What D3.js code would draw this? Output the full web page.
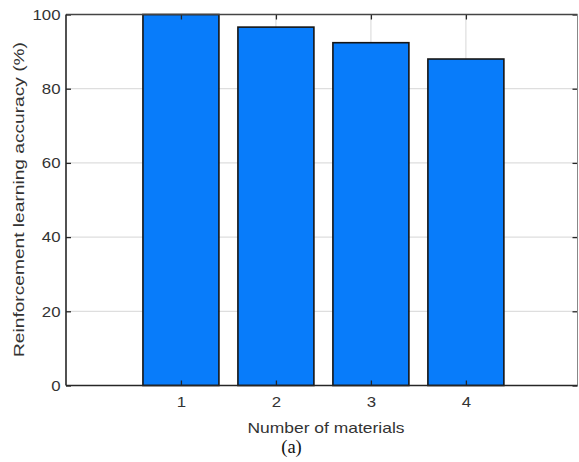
<!DOCTYPE html>
<html>
<head>
<meta charset="utf-8">
<script src="https://cdn.jsdelivr.net/npm/d3@7/dist/d3.min.js"></script>
<style>
html,body{margin:0;padding:0;background:#fff;}
svg{display:block;}
</style>
</head>
<body>
<svg id="chart" width="579" height="462"></svg>
<script>
const categories = [1, 2, 3, 4];
const accuracy = [100, 96.6, 92.4, 88.0];
const yTicks = [0, 20, 40, 60, 80, 100];

const W = 579, H = 462;
const pL = 66, pR = 577.5, pT = 14.5, pB = 385.5;
const svg = d3.select("#chart");

const x = d3.scaleLinear().domain([-0.21, 5.175]).range([pL, pR]);
const y = d3.scaleLinear().domain([0, 100]).range([pB, pT]);
const barW = 0.8;

const font = "'Liberation Sans', Arial, Helvetica, sans-serif";
const axisCol = "#262626";

function stretch(sel, f) {
  sel.each(function() {
    const w = this.getComputedTextLength();
    d3.select(this).attr("textLength", w * f).attr("lengthAdjust", "spacingAndGlyphs");
  });
}

// gridlines
const g = svg.append("g");
g.selectAll(".hg").data(yTicks.slice(1, -1)).enter().append("line")
  .attr("x1", pL).attr("x2", pR)
  .attr("y1", d => y(d)).attr("y2", d => y(d))
  .attr("stroke", "#dedede").attr("stroke-width", 1.2);
g.selectAll(".vg").data(categories).enter().append("line")
  .attr("x1", d => x(d)).attr("x2", d => x(d))
  .attr("y1", pT).attr("y2", pB)
  .attr("stroke", "#dedede").attr("stroke-width", 1.2);

// bars
svg.append("g").selectAll("rect").data(categories).enter().append("rect")
  .attr("x", (d) => x(d - barW / 2))
  .attr("width", (d) => x(d + barW / 2) - x(d - barW / 2))
  .attr("y", (d, i) => y(accuracy[i]))
  .attr("height", (d, i) => y(0) - y(accuracy[i]))
  .attr("fill", "#087cfa")
  .attr("stroke", "#151515")
  .attr("stroke-width", 1.6);

// axes
const xAxisB = d3.axisBottom(x).tickValues(categories).tickSize(-5).tickPadding(11).tickFormat(d3.format("d"));
const xAxisT = d3.axisTop(x).tickValues(categories).tickSize(-5).tickFormat("");
const yAxisL = d3.axisLeft(y).tickValues(yTicks).tickSize(-5).tickPadding(5.5).tickFormat(d3.format("d"));
const yAxisR = d3.axisRight(y).tickValues(yTicks).tickSize(-5).tickFormat("");

function style(sel) {
  sel.select(".domain").remove();
  sel.selectAll(".tick line").attr("stroke", axisCol).attr("stroke-width", 1.3);
  sel.selectAll(".tick text").attr("fill", "#333").style("font-family", font).style("font-size", "15px");
}

const gb = svg.append("g").attr("transform", `translate(0,${pB})`).call(xAxisB);
style(gb);
stretch(gb.selectAll(".tick text"), 1.12);
const gt = svg.append("g").attr("transform", `translate(0,${pT})`).call(xAxisT);
style(gt);
const gl = svg.append("g").attr("transform", `translate(${pL},0)`).call(yAxisL);
style(gl);
stretch(gl.selectAll(".tick text"), 1.12);
const gr = svg.append("g").attr("transform", `translate(${pR},0)`).call(yAxisR);
style(gr);

// box
svg.append("line").attr("x1", pL).attr("x2", pR).attr("y1", pT).attr("y2", pT)
  .attr("stroke", "#444").attr("stroke-width", 1.5);
svg.append("line").attr("x1", pR).attr("x2", pR).attr("y1", pT).attr("y2", pB)
  .attr("stroke", "#888").attr("stroke-width", 1);
svg.append("line").attr("x1", pL).attr("x2", pR).attr("y1", pB).attr("y2", pB)
  .attr("stroke", axisCol).attr("stroke-width", 1.6);
svg.append("line").attr("x1", pL).attr("x2", pL).attr("y1", pT).attr("y2", pB)
  .attr("stroke", axisCol).attr("stroke-width", 1.6);

// labels
svg.append("text").attr("x", 326).attr("y", 433)
  .attr("text-anchor", "middle").attr("fill", "#333")
  .style("font-family", font).style("font-size", "15px")
  .attr("textLength", 157).attr("lengthAdjust", "spacingAndGlyphs")
  .text("Number of materials");

svg.append("text").attr("transform", `translate(24,199.5) rotate(-90)`)
  .attr("text-anchor", "middle").attr("fill", "#333")
  .style("font-family", font).style("font-size", "15.5px")
  .attr("textLength", 315).attr("lengthAdjust", "spacingAndGlyphs")
  .text("Reinforcement learning accuracy (%)");

svg.append("text").attr("x", 291.5).attr("y", 453)
  .attr("text-anchor", "middle").attr("fill", "#111")
  .style("font-family", "'Liberation Serif', 'Times New Roman', serif").style("font-size", "18.5px")
  .text("(a)");
</script>
</body>
</html>
